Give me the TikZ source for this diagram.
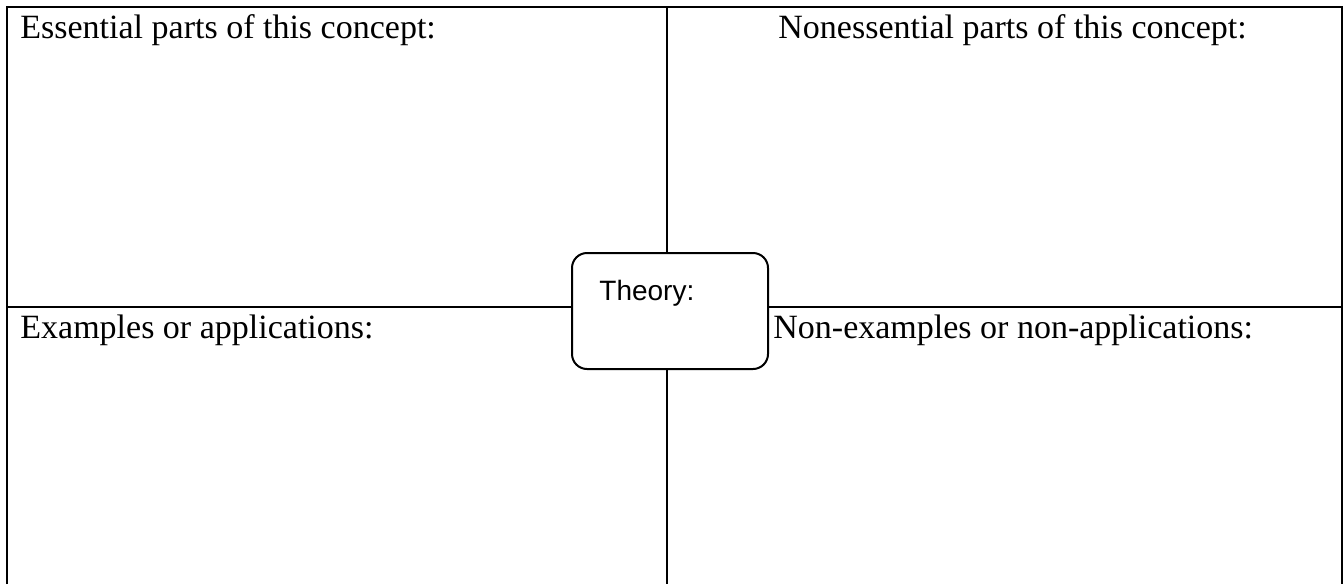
\documentclass[tikz,border=0pt]{standalone}
\usepackage{fontspec}
\setmainfont{Liberation Serif}
\newfontfamily\arialfont{Liberation Sans}
\begin{document}
\begin{tikzpicture}[x=0.5pt,y=-0.5pt,
    cell/.style={anchor=base west,inner sep=0pt,font=\fontsize{17}{20}\selectfont},
    theorybox/.style={draw,line width=1pt,fill=white,rounded corners=7.5pt,
      minimum width=98pt,minimum height=58pt,inner sep=0pt}]
      \useasboundingbox (0,0) rectangle (1344,584);

      \coordinate (tl) at (7,7);
      \coordinate (tr) at (1342,7);
      \coordinate (bl) at (7,584);
      \coordinate (br) at (1342,584);
      \coordinate (ml) at (7,307);
      \coordinate (mr) at (1342,307);
      \coordinate (mt) at (667,7);
      \coordinate (mb) at (667,584);

      \draw[line width=1.3pt] (bl) -- (tl) -- (tr) -- (br);
      \draw[line width=1.1pt] (ml) -- (mr);
      \draw[line width=1.1pt] (mt) -- (mb);

      \node[theorybox] (theory) at (670,311) {};
      \node[anchor=base west,inner sep=0pt,font=\arialfont\fontsize{14}{16}\selectfont] (T) at (599,300) {Theory:};

      \node[cell] (A) at (20,38) {Essential parts of this concept:};
      \node[cell] (B) at (778,38) {Nonessential parts of this concept:};
      \node[cell] (C) at (20,338) {Examples or applications:};
      \node[cell] (D) at (773,338) {Non-examples or non-applications:};
    \end{tikzpicture}
\end{document}
